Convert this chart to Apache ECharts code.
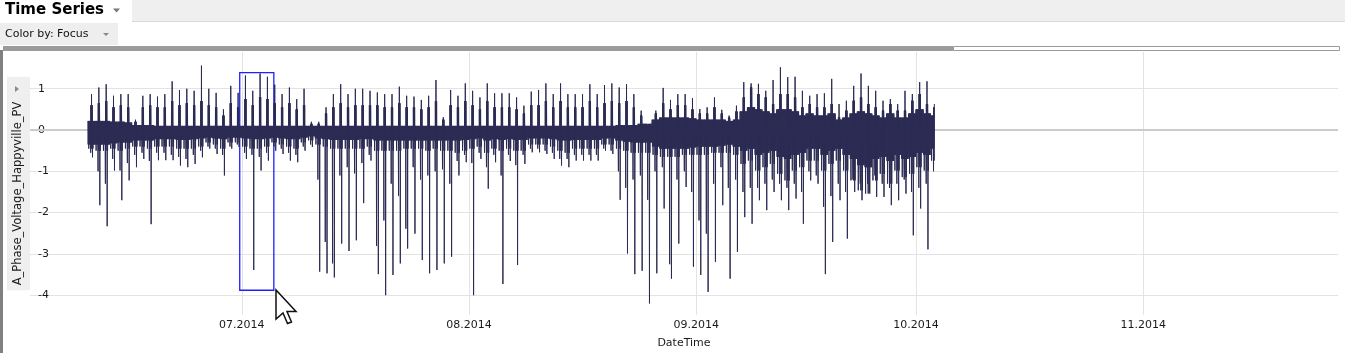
<!DOCTYPE html>
<html>
<head>
<meta charset="utf-8">
<title>Time Series</title>
<script src="https://cdn.jsdelivr.net/npm/echarts@6.0.0/dist/echarts.min.js"></script>
<style>
  html, body { margin: 0; padding: 0; background: #ffffff; }
  #chart { width: 1345px; height: 353px; }
</style>
</head>
<body>
<div id="chart"></div>
<script>
const DAY = 86400000;
const HOUR = 3600000;

// one entry per day, index 0 = 10.06.2014 ... index 115 = 03.10.2014
const firstDay = Date.UTC(2014, 5, 10);
const lastSample = Date.UTC(2014, 9, 3, 12, 30);

// highest reading of the day
const dayPeak = [
  0.87, 1.03, 1.11, 0.83, 0.87, 0.87, 0.25, 0.83, 0.87, 0.81,
  0.87, 1.18, 0.97, 1.00, 0.95, 1.56, 1.00, 0.90, 0.50, 1.07,
  0.90, 1.32, 0.95, 1.37, 1.29, 1.10, 0.87, 1.03, 0.75, 1.00,
  0.20, 0.20, 0.55, 0.87, 1.11, 0.87, 1.00, 1.00, 0.95, 0.91,
  0.87, 0.87, 1.05, 0.83, 0.81, 0.73, 0.83, 1.21, 0.31, 0.97,
  0.83, 1.13, 0.95, 0.79, 1.13, 0.89, 0.89, 0.89, 0.79, 0.59,
  0.93, 0.97, 1.13, 0.87, 1.13, 0.87, 0.87, 0.87, 1.11, 0.87,
  1.09, 1.13, 1.03, 1.11, 0.87, 0.47, 0.15, 0.47, 1.02, 0.73,
  0.87, 0.87, 0.77, 0.51, 0.55, 0.79, 0.49, 0.35, 0.59, 1.16,
  1.13, 1.12, 0.95, 1.21, 1.52, 1.28, 1.29, 0.95, 0.83, 0.87,
  0.89, 1.24, 0.63, 0.71, 1.07, 1.37, 1.07, 0.95, 0.71, 0.75,
  0.63, 0.95, 0.87, 1.16, 1.18, 0.63
];
// deepest dip of the day
const dayDip = [
  -0.66, -1.82, -2.33, -0.98, -1.70, -1.22, -0.90, -0.70, -2.28, -0.73,
  -0.73, -0.73, -0.86, -0.90, -0.82, -0.66, -0.45, -0.58, -1.10, -0.45,
  -0.41, -0.70, -3.39, -0.98, -0.74, -0.50, -0.58, -0.74, -0.78, -0.50,
  -0.41, -3.43, -3.47, -3.57, -2.75, -2.93, -2.67, -1.77, -0.74, -3.49,
  -4.00, -3.51, -3.23, -2.87, -2.51, -3.15, -3.47, -3.39, -3.23, -3.07,
  -1.10, -0.78, -4.00, -0.70, -1.42, -0.78, -3.73, -0.75, -3.27, -0.82,
  -0.54, -0.54, -0.58, -0.70, -0.86, -0.90, -0.74, -0.74, -0.74, -0.74,
  -0.50, -0.58, -1.69, -2.99, -3.49, -3.41, -4.20, -3.47, -1.90, -3.60,
  -2.75, -1.38, -3.31, -3.51, -3.92, -3.19, -1.82, -3.60, -2.95, -2.11,
  -2.27, -1.70, -1.94, -1.50, -1.70, -1.94, -1.66, -2.27, -1.22, -1.30,
  -3.49, -2.71, -1.70, -2.63, -1.50, -1.70, -1.50, -1.62, -1.62, -1.82,
  -1.70, -1.54, -2.55, -1.90, -2.89, -1.38
];
// second dip of the day
const dayDip2 = [
  -0.55, -1.00, -1.30, -0.70, -0.98, -0.80, -0.60, -0.55, -0.75, -0.55,
  -0.55, -0.60, -0.65, -0.70, -0.60, -0.50, -0.40, -0.45, -0.60, -0.40,
  -0.35, -0.55, -0.60, -0.65, -0.55, -0.40, -0.45, -0.55, -0.60, -0.40,
  -0.35, -1.20, -2.71, -3.23, -1.10, -0.90, -1.05, -0.80, -0.60, -2.81,
  -2.19, -1.30, -1.60, -2.39, -0.90, -1.20, -1.10, -1.00, -0.95, -1.30,
  -0.75, -0.60, -0.80, -0.55, -0.90, -0.60, -1.10, -0.60, -0.85, -0.60,
  -0.45, -0.45, -0.50, -0.55, -0.70, -0.70, -0.60, -0.60, -0.60, -0.60,
  -0.45, -0.50, -1.00, -1.40, -1.20, -1.10, -1.69, -1.00, -0.90, -3.25,
  -1.20, -1.00, -1.50, -2.19, -2.51, -1.30, -0.90, -1.40, -1.20, -1.50,
  -1.40, -1.40, -1.30, -1.20, -1.30, -1.40, -1.30, -1.50, -1.00, -1.10,
  -1.86, -1.60, -1.30, -1.50, -1.20, -1.30, -1.30, -1.10, -1.30, -1.40,
  -1.30, -1.20, -1.50, -1.40, -1.30, -1.00
];
// upper edge of the daytime band
const dayUpper = [
  0.60, 0.65, 0.70, 0.55, 0.60, 0.55, 0.20, 0.55, 0.60, 0.55,
  0.55, 0.70, 0.60, 0.65, 0.60, 0.70, 0.60, 0.55, 0.35, 0.65,
  0.55, 0.75, 0.60, 0.80, 0.75, 0.65, 0.55, 0.65, 0.50, 0.60,
  0.15, 0.15, 0.40, 0.55, 0.65, 0.55, 0.60, 0.60, 0.60, 0.60,
  0.55, 0.55, 0.65, 0.55, 0.55, 0.50, 0.55, 0.70, 0.25, 0.60,
  0.55, 0.70, 0.60, 0.50, 0.70, 0.55, 0.55, 0.55, 0.50, 0.40,
  0.60, 0.60, 0.70, 0.55, 0.70, 0.55, 0.55, 0.55, 0.70, 0.55,
  0.65, 0.70, 0.65, 0.70, 0.55, 0.35, 0.12, 0.40, 0.65, 0.50,
  0.60, 0.60, 0.50, 0.40, 0.40, 0.55, 0.40, 0.30, 0.45, 0.79,
  1.03, 0.87, 0.79, 0.63, 0.87, 0.87, 0.79, 0.55, 0.63, 0.55,
  0.55, 0.63, 0.31, 0.47, 0.71, 0.79, 0.63, 0.55, 0.47, 0.63,
  0.47, 0.47, 0.71, 0.87, 0.63, 0.55
];
// lower edge of the daytime band
const dayLower = [
  -0.45, -0.50, -0.50, -0.45, -0.50, -0.45, -0.40, -0.40, -0.45, -0.40,
  -0.40, -0.40, -0.45, -0.45, -0.45, -0.40, -0.30, -0.35, -0.45, -0.30,
  -0.30, -0.40, -0.45, -0.45, -0.40, -0.30, -0.35, -0.40, -0.45, -0.30,
  -0.25, -0.35, -0.40, -0.45, -0.45, -0.45, -0.45, -0.45, -0.40, -0.50,
  -0.50, -0.50, -0.50, -0.45, -0.45, -0.45, -0.50, -0.45, -0.50, -0.50,
  -0.55, -0.50, -0.45, -0.40, -0.55, -0.45, -0.50, -0.45, -0.50, -0.50,
  -0.35, -0.35, -0.35, -0.40, -0.50, -0.55, -0.45, -0.45, -0.45, -0.45,
  -0.35, -0.35, -0.45, -0.50, -0.55, -0.55, -0.55, -0.60, -0.65, -0.65,
  -0.65, -0.60, -0.60, -0.60, -0.60, -0.55, -0.55, -0.55, -0.60, -0.82,
  -0.74, -0.98, -0.90, -0.82, -1.06, -1.22, -0.98, -0.90, -0.74, -0.74,
  -0.98, -0.82, -0.74, -0.98, -1.22, -1.46, -1.54, -1.22, -1.06, -1.30,
  -0.98, -1.14, -1.06, -0.90, -0.98, -0.74
];
// top and bottom of the night-time noise band
const nightHigh = [
  0.22, 0.22, 0.22, 0.20, 0.20, 0.18, 0.12, 0.12, 0.12, 0.10,
  0.10, 0.10, 0.10, 0.10, 0.10, 0.10, 0.10, 0.10, 0.10, 0.10,
  0.10, 0.10, 0.10, 0.10, 0.10, 0.10, 0.10, 0.10, 0.10, 0.10,
  0.10, 0.10, 0.10, 0.10, 0.10, 0.10, 0.10, 0.10, 0.10, 0.10,
  0.10, 0.10, 0.10, 0.10, 0.10, 0.10, 0.10, 0.10, 0.10, 0.10,
  0.10, 0.10, 0.10, 0.10, 0.10, 0.10, 0.10, 0.10, 0.10, 0.10,
  0.10, 0.10, 0.10, 0.10, 0.10, 0.10, 0.10, 0.10, 0.10, 0.10,
  0.10, 0.10, 0.12, 0.12, 0.12, 0.15, 0.15, 0.25, 0.30, 0.30,
  0.30, 0.30, 0.28, 0.25, 0.25, 0.25, 0.25, 0.22, 0.25, 0.45,
  0.55, 0.50, 0.45, 0.40, 0.50, 0.50, 0.45, 0.35, 0.40, 0.35,
  0.35, 0.40, 0.25, 0.30, 0.40, 0.45, 0.40, 0.35, 0.30, 0.40,
  0.30, 0.30, 0.40, 0.50, 0.40, 0.35
];
const nightLow = [
  -0.35, -0.35, -0.35, -0.32, -0.30, -0.30, -0.25, -0.25, -0.25, -0.22,
  -0.22, -0.22, -0.24, -0.24, -0.22, -0.20, -0.18, -0.20, -0.22, -0.18,
  -0.18, -0.20, -0.22, -0.22, -0.20, -0.18, -0.20, -0.22, -0.22, -0.18,
  -0.15, -0.20, -0.22, -0.24, -0.24, -0.24, -0.24, -0.22, -0.22, -0.25,
  -0.25, -0.25, -0.25, -0.25, -0.25, -0.25, -0.25, -0.25, -0.25, -0.25,
  -0.25, -0.24, -0.22, -0.20, -0.25, -0.22, -0.24, -0.22, -0.24, -0.24,
  -0.20, -0.20, -0.20, -0.22, -0.25, -0.25, -0.24, -0.24, -0.24, -0.24,
  -0.20, -0.20, -0.25, -0.28, -0.30, -0.30, -0.30, -0.40, -0.45, -0.45,
  -0.45, -0.45, -0.42, -0.40, -0.40, -0.40, -0.38, -0.35, -0.40, -0.50,
  -0.45, -0.60, -0.55, -0.50, -0.65, -0.70, -0.60, -0.55, -0.45, -0.45,
  -0.60, -0.50, -0.45, -0.60, -0.70, -0.85, -0.90, -0.70, -0.65, -0.75,
  -0.60, -0.70, -0.65, -0.55, -0.60, -0.45
];

// hour of the day and which reading sits there
const daySlots = [
  [0.0, 'nightHigh'], [1.0, 'nightLow'], [2.0, 'nightHigh'], [3.0, 'lower'], [3.8, 'nightHigh'],
  [4.8, 'nightLow'], [5.8, 'nightHigh'], [6.8, 'nightLow'], [7.8, 'nightHigh'], [8.6, 'nightLow'],
  [9.4, 'dip2'], [9.9, 'upper'], [10.4, 'nightLow'], [10.9, 'upper'], [11.4, 'lower'],
  [12.0, 'peak'], [12.6, 'nightLow'], [13.1, 'upper'], [13.6, 'nightLow'], [14.1, 'upper'],
  [14.6, 'nightHigh'], [15.2, 'dip'], [15.8, 'nightHigh'], [16.6, 'lower'], [17.4, 'nightHigh'],
  [18.4, 'nightLow'], [19.4, 'nightHigh'], [20.4, 'nightLow'], [21.4, 'nightHigh'], [22.4, 'nightLow'],
  [23.4, 'nightHigh']
];

// shown time window, zero level and the focus selection
const axisStart = Date.UTC(2014, 5, 2, 2, 30);
const axisEnd = Date.UTC(2014, 10, 27, 14, 0);
const zeroLine = [[axisStart, 0], [axisEnd, 0]];
const focusFrom = Date.UTC(2014, 5, 30, 17, 20);
const focusTo = Date.UTC(2014, 6, 5, 9, 0);
const focusTop = 1.39;
const focusBottom = -3.88;

const points = [];
for (let d = 0; d < dayPeak.length; d++) {
  const reading = {
    nightHigh: nightHigh[d], nightLow: nightLow[d],
    upper: dayUpper[d], lower: dayLower[d],
    peak: dayPeak[d], dip: dayDip[d], dip2: dayDip2[d]
  };
  daySlots.forEach(([h, key]) => {
    const t = firstDay + d * DAY + h * HOUR;
    if (t <= lastSample) points.push([t, reading[key]]);
  });
}

const font = '"DejaVu Sans", Verdana, sans-serif';
const chart = echarts.init(document.getElementById('chart'));

chart.setOption({
  useUTC: true,
  animation: false,
  textStyle: { fontFamily: font },
  grid: { left: 30, right: 7, top: 52, bottom: 38, outerBoundsMode: 'none', containLabel: false },
  xAxis: {
    type: 'time',
    min: axisStart,
    max: axisEnd,
    minInterval: 28 * DAY,
    maxInterval: 31 * DAY,
    name: 'DateTime',
    nameLocation: 'middle',
    nameGap: 23,
    nameTextStyle: { fontSize: 11, color: '#1a1a1a', fontFamily: font },
    axisLine: { show: false, onZero: false },
    axisTick: { show: false },
    axisLabel: {
      fontSize: 11,
      color: '#1a1a1a',
      margin: 5,
      showMinLabel: false,
      showMaxLabel: false,
      formatter: function (v) {
        const dt = new Date(v);
        return String(dt.getUTCMonth() + 1).padStart(2, '0') + '.' + dt.getUTCFullYear();
      }
    },
    splitLine: {
      show: true,
      showMinLine: false,
      showMaxLine: false,
      lineStyle: { color: '#e3e3e3' }
    }
  },
  yAxis: {
    type: 'value',
    min: -4.48,
    max: 1.89,
    name: 'A_Phase_Voltage_Happyville_PV',
    nameLocation: 'middle',
    nameRotate: 90,
    nameGap: 0,
    nameMoveOverlap: false,
    nameTextStyle: {
      fontSize: 11.5,
      color: '#1a1a1a',
      fontFamily: font,
      backgroundColor: '#efefef',
      padding: [5, 25, 6, 5]
    },
    axisLine: { show: false },
    axisTick: { show: false },
    axisLabel: {
      inside: true,
      margin: 8,
      fontSize: 11,
      color: '#1a1a1a',
      showMinLabel: false,
      showMaxLabel: false
    },
    splitLine: {
      showMinLine: false,
      showMaxLine: false,
      lineStyle: { color: '#e3e3e3' }
    }
  },
  series: [{
    // zero level, drawn under the data
    type: 'line',
    data: zeroLine,
    z: 1,
    symbol: 'none',
    silent: true,
    lineStyle: { width: 2, color: '#cbcbcb' }
  }, {
    name: 'A_Phase_Voltage_Happyville_PV',
    type: 'line',
    z: 2,
    data: points,
    symbol: 'none',
    showSymbol: false,
    silent: true,
    lineStyle: { width: 1, color: '#2b2a52' },
    itemStyle: { color: '#2b2a52' },
    markArea: {
      silent: true,
      itemStyle: { color: 'rgba(0,0,0,0)', borderColor: '#1f1fff', borderWidth: 1.3 },
      data: [[{ xAxis: focusFrom, yAxis: focusTop }, { xAxis: focusTo, yAxis: focusBottom }]]
    }
  }],
  graphic: [
    // title bar
    { type: 'rect', silent: true, shape: { x: 132, y: 0, width: 1213, height: 21 }, style: { fill: '#efefef' } },
    { type: 'rect', silent: true, shape: { x: 132, y: 21, width: 1213, height: 1 }, style: { fill: '#dadada' } },
    { type: 'text', silent: true, x: 5, y: 10.5, style: { text: 'Time Series', font: 'bold 15px "DejaVu Sans"', fill: '#000000', verticalAlign: 'middle' } },
    { type: 'polygon', silent: true, shape: { points: [[113, 8.5], [120, 8.5], [116.5, 12.5]] }, style: { fill: '#777777' } },
    // colour-by button
    { type: 'rect', silent: true, shape: { x: 0, y: 23, width: 118, height: 22 }, style: { fill: '#eeeeee' } },
    { type: 'text', silent: true, x: 5, y: 34.5, style: { text: 'Color by: Focus', font: '11px "DejaVu Sans"', fill: '#111111', verticalAlign: 'middle' } },
    { type: 'polygon', silent: true, shape: { points: [[103, 33], [109, 33], [106, 36]] }, style: { fill: '#888888' } },
    // scroll bar
    { type: 'rect', silent: true, shape: { x: 3, y: 46, width: 950, height: 5 }, style: { fill: '#9b9b9b' } },
    { type: 'rect', silent: true, shape: { x: 953.5, y: 46.5, width: 386, height: 4 }, style: { fill: '#ffffff', stroke: '#9b9b9b', lineWidth: 1 } },
    // left frame
    { type: 'rect', silent: true, shape: { x: 0, y: 50, width: 3, height: 303 }, style: { fill: '#808080' } },
    // y title arrow
    { type: 'polygon', silent: true, z: 100, shape: { points: [[15, 86], [19, 89], [15, 92]] }, style: { fill: '#8a8a8a' } },
    // mouse pointer
    {
      type: 'polygon', silent: true, z: 100,
      shape: { points: [[276, 290], [276, 319], [283, 313], [287.5, 323.5], [291.5, 322], [287, 311.5], [296, 311.5]] },
      style: { fill: '#ffffff', stroke: '#111111', lineWidth: 1.5 }
    }
  ]
});
</script>
</body>
</html>
